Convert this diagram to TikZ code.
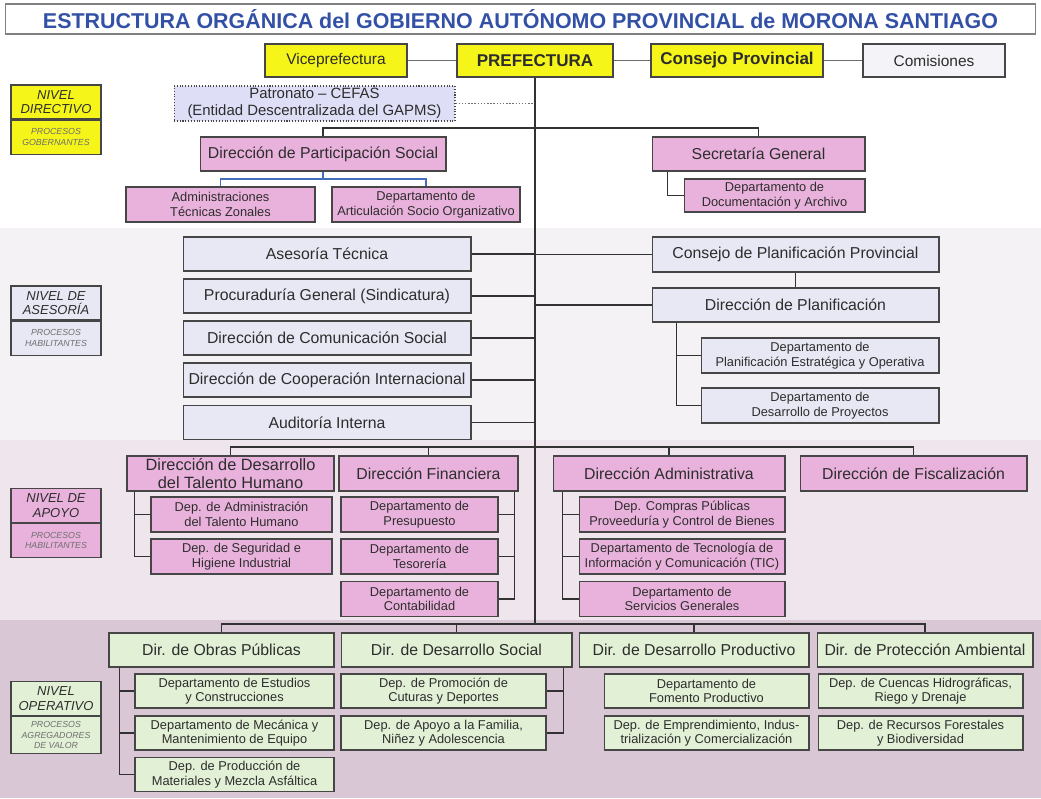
\documentclass[tikz,border=0pt]{standalone}
\usepackage{fontspec}
\setmainfont{Liberation Sans}
\usepackage{xcolor}
\usepackage{tikz}
\usetikzlibrary{positioning}
\definecolor{amarillo}{RGB}{245,245,25}
\definecolor{rosa}{RGB}{233,178,220}
\definecolor{lila}{RGB}{231,232,243}
\definecolor{lavanda}{RGB}{222,222,247}
\definecolor{verde}{RGB}{226,240,214}
\definecolor{blanco}{RGB}{243,243,248}
\definecolor{borde}{RGB}{70,70,70}
\definecolor{linea}{RGB}{50,50,50}
\definecolor{texto}{RGB}{45,45,45}
\definecolor{gris}{RGB}{110,110,110}
\definecolor{titulo}{RGB}{50,80,165}
\definecolor{azul}{RGB}{70,110,190}
\definecolor{fondoa}{RGB}{244,242,244}
\definecolor{fondob}{RGB}{239,229,237}
\definecolor{fondoc}{RGB}{218,199,213}
\tikzset{
box/.style={draw=borde, line width=0.6pt, text=texto, align=center, inner sep=1pt}, % every box of the chart
nivel/.style={box, minimum width=1.8cm, minimum height=0.68cm, font=\fontsize{7.4}{8.4}\selectfont\itshape}, % level name
proc/.style={box, minimum width=1.8cm, minimum height=0.68cm, font=\fontsize{5}{5.8}\selectfont\itshape, text=gris}, % process type
alto/.style={box, fill=amarillo, minimum height=0.66cm, font=\fontsize{8.8}{10}\selectfont}, % top row
ase/.style={box, fill=lila, minimum height=0.68cm, font=\fontsize{9}{10.5}\selectfont}, % advisory units
dir/.style={box, minimum height=0.7cm, font=\fontsize{9}{10}\selectfont}, % directions
dep/.style={box, minimum height=0.7cm, font=\fontsize{7.3}{8.3}\selectfont}, % departments
link/.style={draw=linea, line width=0.8pt}, % connectors
bluelink/.style={draw=azul, line width=0.8pt}, % blue connectors
}
\begin{document}
\begin{tikzpicture}[x=0.02cm, y=-0.02cm]
    \useasboundingbox (0,0) rectangle (1041,798);
    \fill[white] (0,0) rectangle (1041,228);
    \fill[fondoa] (0,228) rectangle (1041,440);
    \fill[fondob] (0,440) rectangle (1041,620);
    \fill[fondoc] (0,620) rectangle (1041,798);

    \node[box, fill=white, draw=gray, minimum width=20.62cm, minimum height=0.6cm, text=titulo, font=\fontsize{12.2}{14}\selectfont\bfseries] (tit) at (520.5,19) {ESTRUCTURA ORGÁNICA del GOBIERNO AUTÓNOMO PROVINCIAL de MORONA SANTIAGO};

    % levels
    \node[nivel, fill=amarillo] (ldir) at (56,102) {NIVEL\\DIRECTIVO};
    \node[proc, fill=amarillo, below=0pt of ldir] (pdir) {PROCESOS\\GOBERNANTES};
    \node[nivel, fill=lila] (lase) at (56,303) {NIVEL DE\\ASESORÍA};
    \node[proc, fill=lila, below=0pt of lase] (pase) {PROCESOS\\HABILITANTES};
    \node[nivel, fill=rosa] (lapo) at (56,505.5) {NIVEL DE\\APOYO};
    \node[proc, fill=rosa, below=0pt of lapo] (papo) {PROCESOS\\HABILITANTES};
    \node[nivel, fill=verde] (lope) at (56,698.5) {NIVEL\\OPERATIVO};
    \node[proc, fill=verde, minimum height=0.74cm, below=0pt of lope] (pope) {PROCESOS\\AGREGADORES\\DE VALOR};

    % top row
    \node[alto, minimum width=2.84cm] (vice) at (336,60.5) {Viceprefectura};
    \node[alto, minimum width=3.12cm, font=\fontsize{9.7}{11}\selectfont\bfseries] (pref) at (535,60.5) {PREFECTURA};
    \node[alto, minimum width=3.44cm, font=\fontsize{9.7}{11}\selectfont\bfseries] (cons) at (737,60.5) {Consejo Provincial};
    \node[alto, fill=blanco, minimum width=2.84cm] (comi) at (934,60.5) {Comisiones};
    \draw[link, draw=gris] (vice) -- (pref) (pref) -- (cons) (cons) -- (comi);

    \node[box, fill=lavanda, densely dotted, minimum width=5.62cm, minimum height=0.7cm, font=\fontsize{8.5}{9.6}\selectfont] (patr) at (314.5,103.5) {Patronato – CEFAS\\(Entidad Descentralizada del GAPMS)};
    \draw[link, densely dotted, draw=gris] (patr.east) -- (patr.east -| pref.south);

    \coordinate (bdir) at (535,128);
    \coordinate (bapo) at (535,447);
    \coordinate (bope) at (535,624);
    \draw[link] (pref.south) -- (bope);

    % gobernantes
    \node[dir, fill=rosa, minimum width=4.92cm, minimum height=0.68cm] (part) at (323,154) {Dirección de Participación Social};
    \node[dir, fill=rosa, minimum width=4.26cm, minimum height=0.68cm] (secr) at (758.5,154) {Secretaría General};
    \draw[link] (part.north) |- (bdir) -| (secr.north);

    \node[dep, fill=rosa, minimum width=3.78cm] (admz) at (220.5,204.5) {Administraciones\\Técnicas Zonales};
    \node[dep, fill=rosa, minimum width=3.76cm] (arti) at (426,204.5) {Departamento de\\Articulación Socio Organizativo};
    \coordinate (bpar) at (323,179);
    \draw[bluelink] (part.south) -- (bpar) (admz.north) |- (bpar) -| (arti.north);

    \node[dep, fill=rosa, minimum width=3.62cm, minimum height=0.66cm] (docu) at (774.5,195.5) {Departamento de\\Documentación y Archivo};
    \draw[link] ([xshift=0.32cm]secr.south west) |- (docu.west);

    % asesoria
    \node[ase, minimum width=5.76cm] (ase1) at (327,254) {Asesoría Técnica};
    \node[ase, minimum width=5.76cm] (ase2) at (327,296) {Procuraduría General (Sindicatura)};
    \node[ase, minimum width=5.76cm] (ase3) at (327,338) {Dirección de Comunicación Social};
    \node[ase, minimum width=5.76cm] (ase4) at (327,380) {Dirección de Cooperación Internacional};
    \node[ase, minimum width=5.76cm] (ase5) at (327,422.5) {Auditoría Interna};
    \foreach \n in {1,...,5}
        \draw[link] (ase\n.east) -- (ase\n.east -| pref.south);

    \node[ase, minimum width=5.74cm, minimum height=0.7cm] (cpp) at (795.5,254.5) {Consejo de Planificación Provincial};
    \node[ase, minimum width=5.74cm] (dpl) at (795.5,305) {Dirección de Planificación};
    \node[dep, fill=lila, minimum width=4.76cm] (dpe) at (820,355.5) {Departamento de\\Planificación Estratégica y Operativa};
    \node[dep, fill=lila, minimum width=4.76cm] (ddp) at (820,405.5) {Departamento de\\Desarrollo de Proyectos};
    \draw[link] (cpp.west) -- (cpp.west -| pref.south)
                (dpl.west) -- (dpl.west -| pref.south)
                (cpp) -- (dpl)
                ([xshift=0.5cm]dpl.south west) |- (dpe.west)
                ([xshift=0.5cm]dpl.south west) |- (ddp.west);

    % apoyo
    \node[dir, fill=rosa, minimum width=4.14cm, font=\fontsize{9.3}{9.8}\selectfont] (tal) at (230.5,473.5) {Dirección de Desarrollo\\del Talento Humano};
    \node[dir, fill=rosa, minimum width=3.58cm] (fin) at (428.5,473.5) {Dirección Financiera};
    \node[dir, fill=rosa, minimum width=4.64cm] (adm) at (669,473.5) {Dirección Administrativa};
    \node[dir, fill=rosa, minimum width=4.54cm] (fis) at (913.5,473.5) {Dirección de Fiscalización};
    \draw[link] (tal.north) |- (bapo) -| (fis.north)
                (fin.north) -- (fin.north |- bapo)
                (adm.north) -- (adm.north |- bapo);

    \node[dep, fill=rosa, minimum width=3.62cm] (tal1) at (241.5,514.5) {Dep. de Administración\\del Talento Humano};
    \node[dep, fill=rosa, minimum width=3.62cm] (tal2) at (241.5,556.5) {Dep. de Seguridad e\\Higiene Industrial};
    \node[dep, fill=rosa, minimum width=3.14cm] (fin1) at (419.5,514.5) {Departamento de\\Presupuesto};
    \node[dep, fill=rosa, minimum width=3.14cm] (fin2) at (419.5,556.5) {Departamento de\\Tesorería};
    \node[dep, fill=rosa, minimum width=3.14cm] (fin3) at (419.5,599) {Departamento de\\Contabilidad};
    \node[dep, fill=rosa, minimum width=4.12cm] (adm1) at (682,514.5) {Dep. Compras Públicas\\Proveeduría y Control de Bienes};
    \node[dep, fill=rosa, minimum width=4.12cm] (adm2) at (682,556.5) {Departamento de Tecnología de\\Información y Comunicación (TIC)};
    \node[dep, fill=rosa, minimum width=4.12cm] (adm3) at (682,599) {Departamento de\\Servicios Generales};
    \foreach \n in {1,2}
        \draw[link] ([xshift=0.16cm]tal.south west) |- (tal\n.west);
    \foreach \n in {1,2,3} {
        \draw[link] ([xshift=-0.08cm]fin.south east) |- (fin\n.east);
        \draw[link] ([xshift=0.2cm]adm.south west) |- (adm\n.west);
    }

    % operativo
    \node[dir, fill=verde, minimum width=4.5cm, minimum height=0.68cm] (obr) at (221.5,650) {Dir. de Obras Públicas};
    \node[dir, fill=verde, minimum width=4.62cm, minimum height=0.68cm] (soc) at (456.5,650) {Dir. de Desarrollo Social};
    \node[dir, fill=verde, minimum width=4.6cm, minimum height=0.68cm] (pro) at (694,650) {Dir. de Desarrollo Productivo};
    \node[dir, fill=verde, minimum width=4.32cm, minimum height=0.68cm] (amb) at (925,650) {Dir. de Protección Ambiental};
    \draw[link] (obr.north) |- (bope) -| (amb.north)
                (soc.north) -- (soc.north |- bope)
                (pro.north) -- (pro.north |- bope);

    \node[dep, fill=verde, minimum width=3.98cm, minimum height=0.68cm] (obr1) at (234.5,691) {Departamento de Estudios\\y Construcciones};
    \node[dep, fill=verde, minimum width=3.98cm, minimum height=0.68cm] (obr2) at (234.5,733) {Departamento de Mecánica y\\Mantenimiento de Equipo};
    \node[dep, fill=verde, minimum width=3.98cm, minimum height=0.68cm] (obr3) at (234.5,774.5) {Dep. de Producción de\\Materiales y Mezcla Asfáltica};
    \node[dep, fill=verde, minimum width=4.1cm, minimum height=0.68cm] (soc1) at (443.5,691) {Dep. de Promoción de\\Cuturas y Deportes};
    \node[dep, fill=verde, minimum width=4.1cm, minimum height=0.68cm] (soc2) at (443.5,733) {Dep. de Apoyo a la Familia,\\Niñez y Adolescencia};
    \node[dep, fill=verde, minimum width=4.1cm, minimum height=0.68cm] (pro1) at (706.5,691) {Departamento de\\Fomento Productivo};
    \node[dep, fill=verde, minimum width=4.1cm, minimum height=0.68cm] (pro2) at (706.5,733) {Dep. de Emprendimiento, Indus-\\trialización y Comercialización};
    \node[dep, fill=verde, minimum width=4.1cm, minimum height=0.68cm] (amb1) at (920.5,691) {Dep. de Cuencas Hidrográficas,\\Riego y Drenaje};
    \node[dep, fill=verde, minimum width=4.1cm, minimum height=0.68cm] (amb2) at (920.5,733) {Dep. de Recursos Forestales\\y Biodiversidad};
    \foreach \n in {1,2,3}
        \draw[link] ([xshift=0.22cm]obr.south west) |- (obr\n.west);
    \foreach \n in {1,2}
        \draw[link] ([xshift=-0.18cm]soc.south east) |- (soc\n.east);
\end{tikzpicture}
\end{document}
